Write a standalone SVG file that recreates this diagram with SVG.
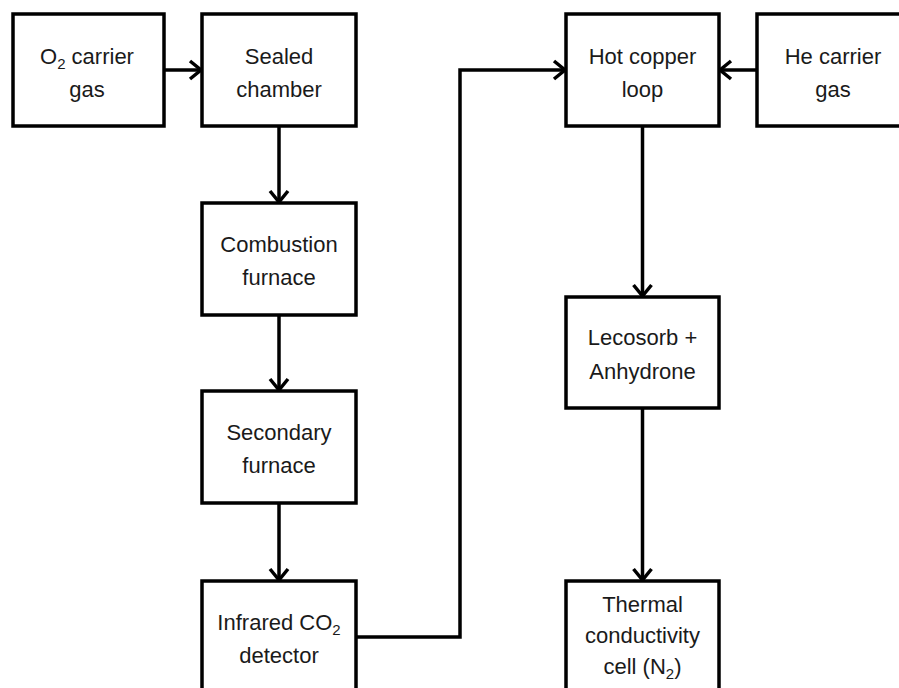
<svg xmlns="http://www.w3.org/2000/svg" width="899" height="688" viewBox="0 0 899 688">
<style>
.box{fill:#fff;stroke:#000;stroke-width:3.5}
.t{font-family:"Liberation Sans",Arial,sans-serif;font-size:22px;fill:#1a1a1a;text-anchor:middle}
.c{fill:none;stroke:#000;stroke-width:3.5}
.sub{font-size:15px}
</style>
<defs>
<marker id="ah" markerWidth="16" markerHeight="22" refX="13" refY="11" orient="auto" markerUnits="userSpaceOnUse">
<path d="M2,2 L13,11 L2,20" fill="none" stroke="#000" stroke-width="3.5"/>
</marker>
</defs>
<rect width="899" height="688" fill="#fff"/>
<g id="connectors">
<line class="c" x1="164" y1="70" x2="201" y2="70" marker-end="url(#ah)"/>
<line class="c" x1="279" y1="126" x2="279" y2="202" marker-end="url(#ah)"/>
<line class="c" x1="279" y1="315" x2="279" y2="390" marker-end="url(#ah)"/>
<line class="c" x1="279" y1="503" x2="279" y2="580" marker-end="url(#ah)"/>
<polyline class="c" points="356,637 460,637 460,70 565,70" marker-end="url(#ah)"/>
<line class="c" x1="757" y1="70" x2="720" y2="70" marker-end="url(#ah)"/>
<line class="c" x1="642.5" y1="126" x2="642.5" y2="296" marker-end="url(#ah)"/>
<line class="c" x1="642.5" y1="408" x2="642.5" y2="580" marker-end="url(#ah)"/>
</g>
<g id="o2">
<rect class="box" x="13" y="14" width="151" height="112"/>
<text class="t" x="87" y="64">O<tspan class="sub" dy="5">2</tspan><tspan dy="-5"> carrier</tspan></text>
<text class="t" x="87" y="97">gas</text>
</g>
<g id="sealed">
<rect class="box" x="202" y="14" width="154" height="112"/>
<text class="t" x="279" y="64">Sealed</text>
<text class="t" x="279" y="97">chamber</text>
</g>
<g id="combustion">
<rect class="box" x="202" y="203" width="154" height="112"/>
<text class="t" x="279" y="252">Combustion</text>
<text class="t" x="279" y="285">furnace</text>
</g>
<g id="secondary">
<rect class="box" x="202" y="391" width="154" height="112"/>
<text class="t" x="279" y="440">Secondary</text>
<text class="t" x="279" y="473">furnace</text>
</g>
<g id="infrared">
<rect class="box" x="202" y="581" width="154" height="115"/>
<text class="t" x="279" y="630">Infrared CO<tspan class="sub" dy="5">2</tspan></text>
<text class="t" x="279" y="663">detector</text>
</g>
<g id="hotcopper">
<rect class="box" x="566" y="14" width="153" height="112"/>
<text class="t" x="642.5" y="64">Hot copper</text>
<text class="t" x="642.5" y="97">loop</text>
</g>
<g id="he">
<rect class="box" x="757" y="14" width="155" height="112"/>
<text class="t" x="833" y="64">He carrier</text>
<text class="t" x="833" y="97">gas</text>
</g>
<g id="lecosorb">
<rect class="box" x="566" y="297" width="153" height="111"/>
<text class="t" x="642.5" y="345">Lecosorb +</text>
<text class="t" x="642.5" y="379">Anhydrone</text>
</g>
<g id="thermal">
<rect class="box" x="566" y="581" width="153" height="115"/>
<text class="t" x="642.5" y="612">Thermal</text>
<text class="t" x="642.5" y="643">conductivity</text>
<text class="t" x="642.5" y="674">cell (N<tspan class="sub" dy="5">2</tspan><tspan dy="-5">)</tspan></text>
</g>
</svg>
